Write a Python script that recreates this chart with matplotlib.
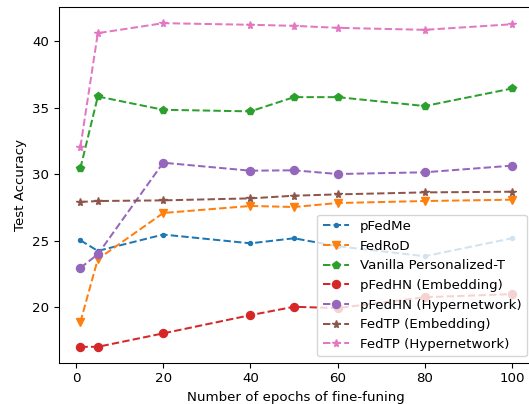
import matplotlib
matplotlib.use("Agg")
import matplotlib.pyplot as plt

# --- data ---
epochs = [1, 5, 20, 40, 50, 60, 80, 100]

pfedme = [25.05, 24.25, 25.48, 24.82, 25.2, 24.6, 23.85, 25.2]
fedrod = [18.9, 23.63, 27.1, 27.63, 27.55, 27.85, 28.0, 28.1]
vanilla = [30.46, 35.86, 34.86, 34.74, 35.81, 35.81, 35.14, 36.46]
pfedhn_emb = [17.04, 17.04, 18.05, 19.42, 20.05, 19.95, 20.77, 21.0]
pfedhn_hyper = [22.97, 24.0, 30.88, 30.28, 30.31, 30.03, 30.16, 30.66]
fedtp_emb = [27.93, 28.0, 28.05, 28.2, 28.4, 28.5, 28.65, 28.7]
fedtp_hyper = [32.06, 40.62, 41.37, 41.25, 41.17, 41.02, 40.87, 41.29]

labels = ["pFedMe", "FedRoD", "Vanilla Personalized-T", "pFedHN (Embedding)",
          "pFedHN (Hypernetwork)", "FedTP (Embedding)", "FedTP (Hypernetwork)"]
series = [pfedme, fedrod, vanilla, pfedhn_emb, pfedhn_hyper, fedtp_emb, fedtp_hyper]
markers = [".", "v", "p", "o", "o", "*", "*"]

# original looks like a default figure rendered a touch smaller
s = 0.96
plt.rcParams.update({
    "font.size": 10 * s,
    "lines.linewidth": 1.5 * s,
    "lines.markersize": 6 * s,
    "xtick.major.size": 3.5 * s,
    "ytick.major.size": 3.5 * s,
    "xtick.major.pad": 3.5 * s,
    "ytick.major.pad": 3.5 * s,
    "axes.linewidth": 0.8 * s,
})

fig = plt.figure(figsize=(5.29, 4.04), dpi=100)
# axes runs slightly past the right edge, as in the cropped original
ax = fig.add_axes([58.8 / 529, 41 / 404, 474.8 / 529, 356 / 404])

for vals, lab, m in zip(series, labels, markers):
    ax.plot(epochs, vals, linestyle="--", marker=m, label=lab)

ax.set_xlabel("Number of epochs of fine-funing", labelpad=4 * s)
ax.set_ylabel("Test Accuracy", labelpad=4 * s)
ax.legend(loc="lower right")

fig.savefig("out.png", dpi=100)
